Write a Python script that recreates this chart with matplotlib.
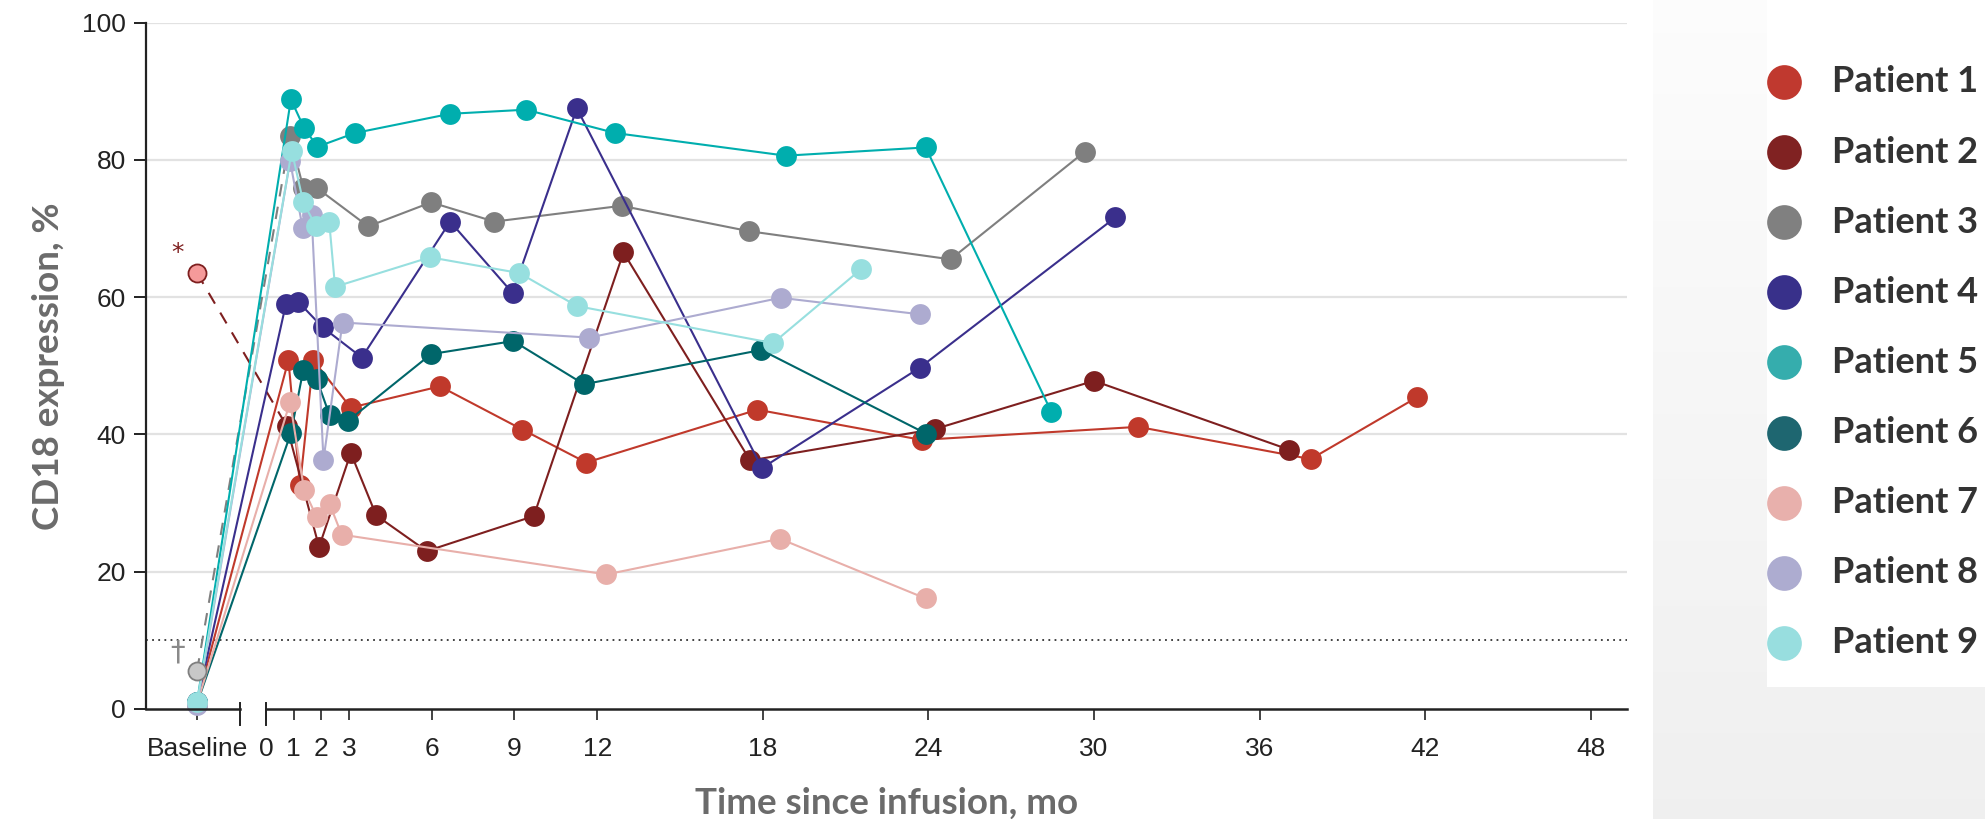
import numpy as np
import matplotlib
matplotlib.use("Agg")
import matplotlib.pyplot as plt
from matplotlib.patches import Rectangle

# --- data (months since infusion, CD18 %) ---
baseline_x = -2.5
p1_months = [0.81, 1.23, 1.71, 3.07, 6.3, 9.29, 11.6, 17.8, 23.75, 31.6, 37.85, 41.7]
p1_vals = [50.8, 32.6, 50.8, 43.9, 47.0, 40.7, 35.9, 43.6, 39.2, 41.1, 36.4, 45.4]
p2_months = [0.75, 1.92, 3.07, 3.99, 5.82, 9.7, 12.95, 17.54, 24.25, 30.0, 37.05]
p2_vals = [41.2, 23.6, 37.3, 28.2, 23.0, 28.1, 66.5, 36.2, 40.8, 47.8, 37.8]
p3_months = [0.87, 1.35, 1.84, 3.7, 5.98, 8.27, 12.88, 17.5, 24.8, 29.67]
p3_vals = [83.4, 75.9, 75.9, 70.3, 73.8, 71.0, 73.3, 69.6, 65.5, 81.2]
p4_months = [0.72, 1.17, 2.05, 3.47, 6.67, 8.93, 11.26, 17.97, 23.68, 30.77]
p4_vals = [59.0, 59.3, 55.6, 51.2, 71.0, 60.6, 87.5, 35.1, 49.7, 71.6]
p5_months = [0.9, 1.37, 1.86, 3.22, 6.67, 9.42, 12.65, 18.83, 23.9, 28.45]
p5_vals = [88.8, 84.7, 81.9, 83.9, 86.7, 87.3, 83.9, 80.6, 81.8, 43.3]
p6_months = [0.9, 1.35, 1.84, 2.3, 2.98, 5.98, 8.96, 11.52, 17.94, 23.92]
p6_vals = [40.2, 49.4, 48.0, 42.8, 42.0, 51.7, 53.6, 47.3, 52.3, 40.1]
p7_months = [0.87, 1.38, 1.84, 2.3, 2.74, 12.33, 18.62, 23.9]
p7_vals = [44.7, 31.9, 27.9, 29.9, 25.4, 19.6, 24.8, 16.1]
p8_months = [0.87, 1.33, 1.65, 2.08, 2.77, 11.71, 18.64, 23.68]
p8_vals = [79.8, 70.0, 72.0, 36.3, 56.3, 54.1, 59.9, 57.5]
p9_months = [0.93, 1.35, 1.81, 2.29, 2.5, 5.94, 9.18, 11.26, 18.37, 21.57]
p9_vals = [81.3, 73.8, 70.3, 70.9, 61.5, 65.8, 63.5, 58.7, 53.3, 64.1]

baseline_vals = [1, 63.5, 5.6, 1, 1, 0.8, 0.8, 0.6, 1]
dashed_patients = [2, 3]   # baseline joined by dashed line

labels = ['Patient %d' % i for i in range(1, 10)]
colors = ['#C0392B', '#7E1F1F', '#7F7F7F', '#3A2F8C', '#00AEAE',
          '#00666A', '#E8AFAA', '#ADABD0', '#97DFDF']
legend_colors = ['#C0392F', '#802222', '#808080', '#38308A', '#35ADAD',
                 '#1E6670', '#E8B0AC', '#ADACD0', '#98DEDF']

months = [p1_months, p2_months, p3_months, p4_months, p5_months,
          p6_months, p7_months, p8_months, p9_months]
vals = [p1_vals, p2_vals, p3_vals, p4_vals, p5_vals,
        p6_vals, p7_vals, p8_vals, p9_vals]

xticks = [baseline_x, 0, 1, 2, 3, 6, 9, 12, 18, 24, 30, 36, 42, 48]
xticklabels = ['Baseline', '0', '1', '2', '3', '6', '9', '12', '18', '24',
               '30', '36', '42', '48']

W, H = 1985, 819
fig = plt.figure(figsize=(W / 100, H / 100), dpi=100)
fig.patch.set_facecolor('white')

# right grey panel with gradient
pan = fig.add_axes([1653 / W, 0, 1 - 1653 / W, 1])
grad = np.linspace(0.99, 0.94, 200).reshape(-1, 1)
pan.imshow(np.dstack([grad, grad, grad]), aspect='auto', extent=[0, 1, 0, 1], origin='upper')
pan.set_axis_off()

ax = fig.add_axes([146 / W, (H - 709) / H, (1627 - 146) / W, (709 - 22.5) / H])
x_left, x_right = -4.35, 49.31
brk = -0.94
ax.set_xlim(x_left, x_right)
ax.set_ylim(0, 100)

for s in ['top', 'right', 'bottom']:
    ax.spines[s].set_visible(False)
ax.spines['left'].set_color('#222222')
ax.spines['left'].set_linewidth(1.6)

# grid and threshold
for g in [20, 40, 60, 80, 100]:
    ax.axhline(g, color='#e2e2e2', lw=1.6, zorder=0)
ax.axhline(10, color='#333333', lw=1.3, ls=(0, (1, 2.4)), zorder=1)

# broken x axis line
xt = ax.get_xaxis_transform()
ax.plot([x_left, brk], [0, 0], color='#222222', lw=1.8, transform=xt, clip_on=False, zorder=5)
ax.plot([0, x_right], [0, 0], color='#222222', lw=1.8, transform=xt, clip_on=False, zorder=5)
for bx in [brk, 0]:
    ax.plot([bx, bx], [0.009, -0.024], color='#222222', lw=1.4, transform=xt, clip_on=False, zorder=5)

# patient lines
for i in range(9):
    c = colors[i]
    pid = i + 1
    if pid in dashed_patients:
        ax.plot([baseline_x, months[i][0]], [baseline_vals[i], vals[i][0]],
                color=c, lw=1.5, ls=(0, (6, 5)), zorder=3)
        ax.plot(months[i], vals[i], color=c, lw=1.5, marker='o', ms=15,
                mec=c, mew=0, zorder=3)
        face = '#F59A9A' if pid == 2 else '#C8C8C8'
        ax.plot([baseline_x], [baseline_vals[i]], marker='o', ms=13,
                mfc=face, mec=c, mew=1.3, ls='none', zorder=4, clip_on=False)
    else:
        ax.plot([baseline_x] + months[i], [baseline_vals[i]] + vals[i],
                color=c, lw=1.5, marker='o', ms=15, mec=c, mew=0,
                zorder=3, clip_on=False)

ax.text(-3.22, 66.4, '*', color='#7E1F1F', fontsize=18, ha='center', va='center',
        family='DejaVu Sans')
ax.text(-3.2, 8.2, '\u2020', color='#8a8a8a', fontsize=21, ha='center', va='center',
        family='DejaVu Sans')

ax.set_yticks([0, 20, 40, 60, 80, 100])
ax.set_xticks(xticks)
ax.set_xticklabels(xticklabels)
ax.tick_params(axis='y', length=8.5, width=1.4, color='#222222', pad=6,
               labelsize=19, labelcolor='#222222')
ax.tick_params(axis='x', length=8, width=1.2, color='#222222', pad=12,
               labelsize=19, labelcolor='#222222')
for t in ax.get_xticklabels() + ax.get_yticklabels():
    t.set_family('Liberation Sans')

ax.set_ylabel('CD18 expression, %', fontsize=26.5, fontweight='bold',
              color='#6b6b6b', family='Lato', labelpad=12)
ax.set_xlabel('Time since infusion, mo', fontsize=26.5, fontweight='bold',
              color='#6b6b6b', family='Lato', labelpad=19)

# legend box
fig.patches.append(Rectangle((1767 / W, (H - 687) / H), 1 - 1767 / W, 687 / H,
                             transform=fig.transFigure, facecolor='white',
                             edgecolor='none', zorder=1))
lg = fig.add_axes([0, 0, 1, 1], zorder=10)
lg.set_xlim(0, W)
lg.set_ylim(H, 0)
lg.set_axis_off()
lg.patch.set_alpha(0)
for i in range(9):
    yy = 82 + i * 70.1
    lg.plot([1784], [yy], marker='o', ms=25, mfc=legend_colors[i], mec='none', ls='none')
    lg.text(1832, yy, labels[i], fontsize=26, fontweight='bold', color='#333333',
            family='Lato', va='center', ha='left')

fig.savefig('out.png', dpi=100)
